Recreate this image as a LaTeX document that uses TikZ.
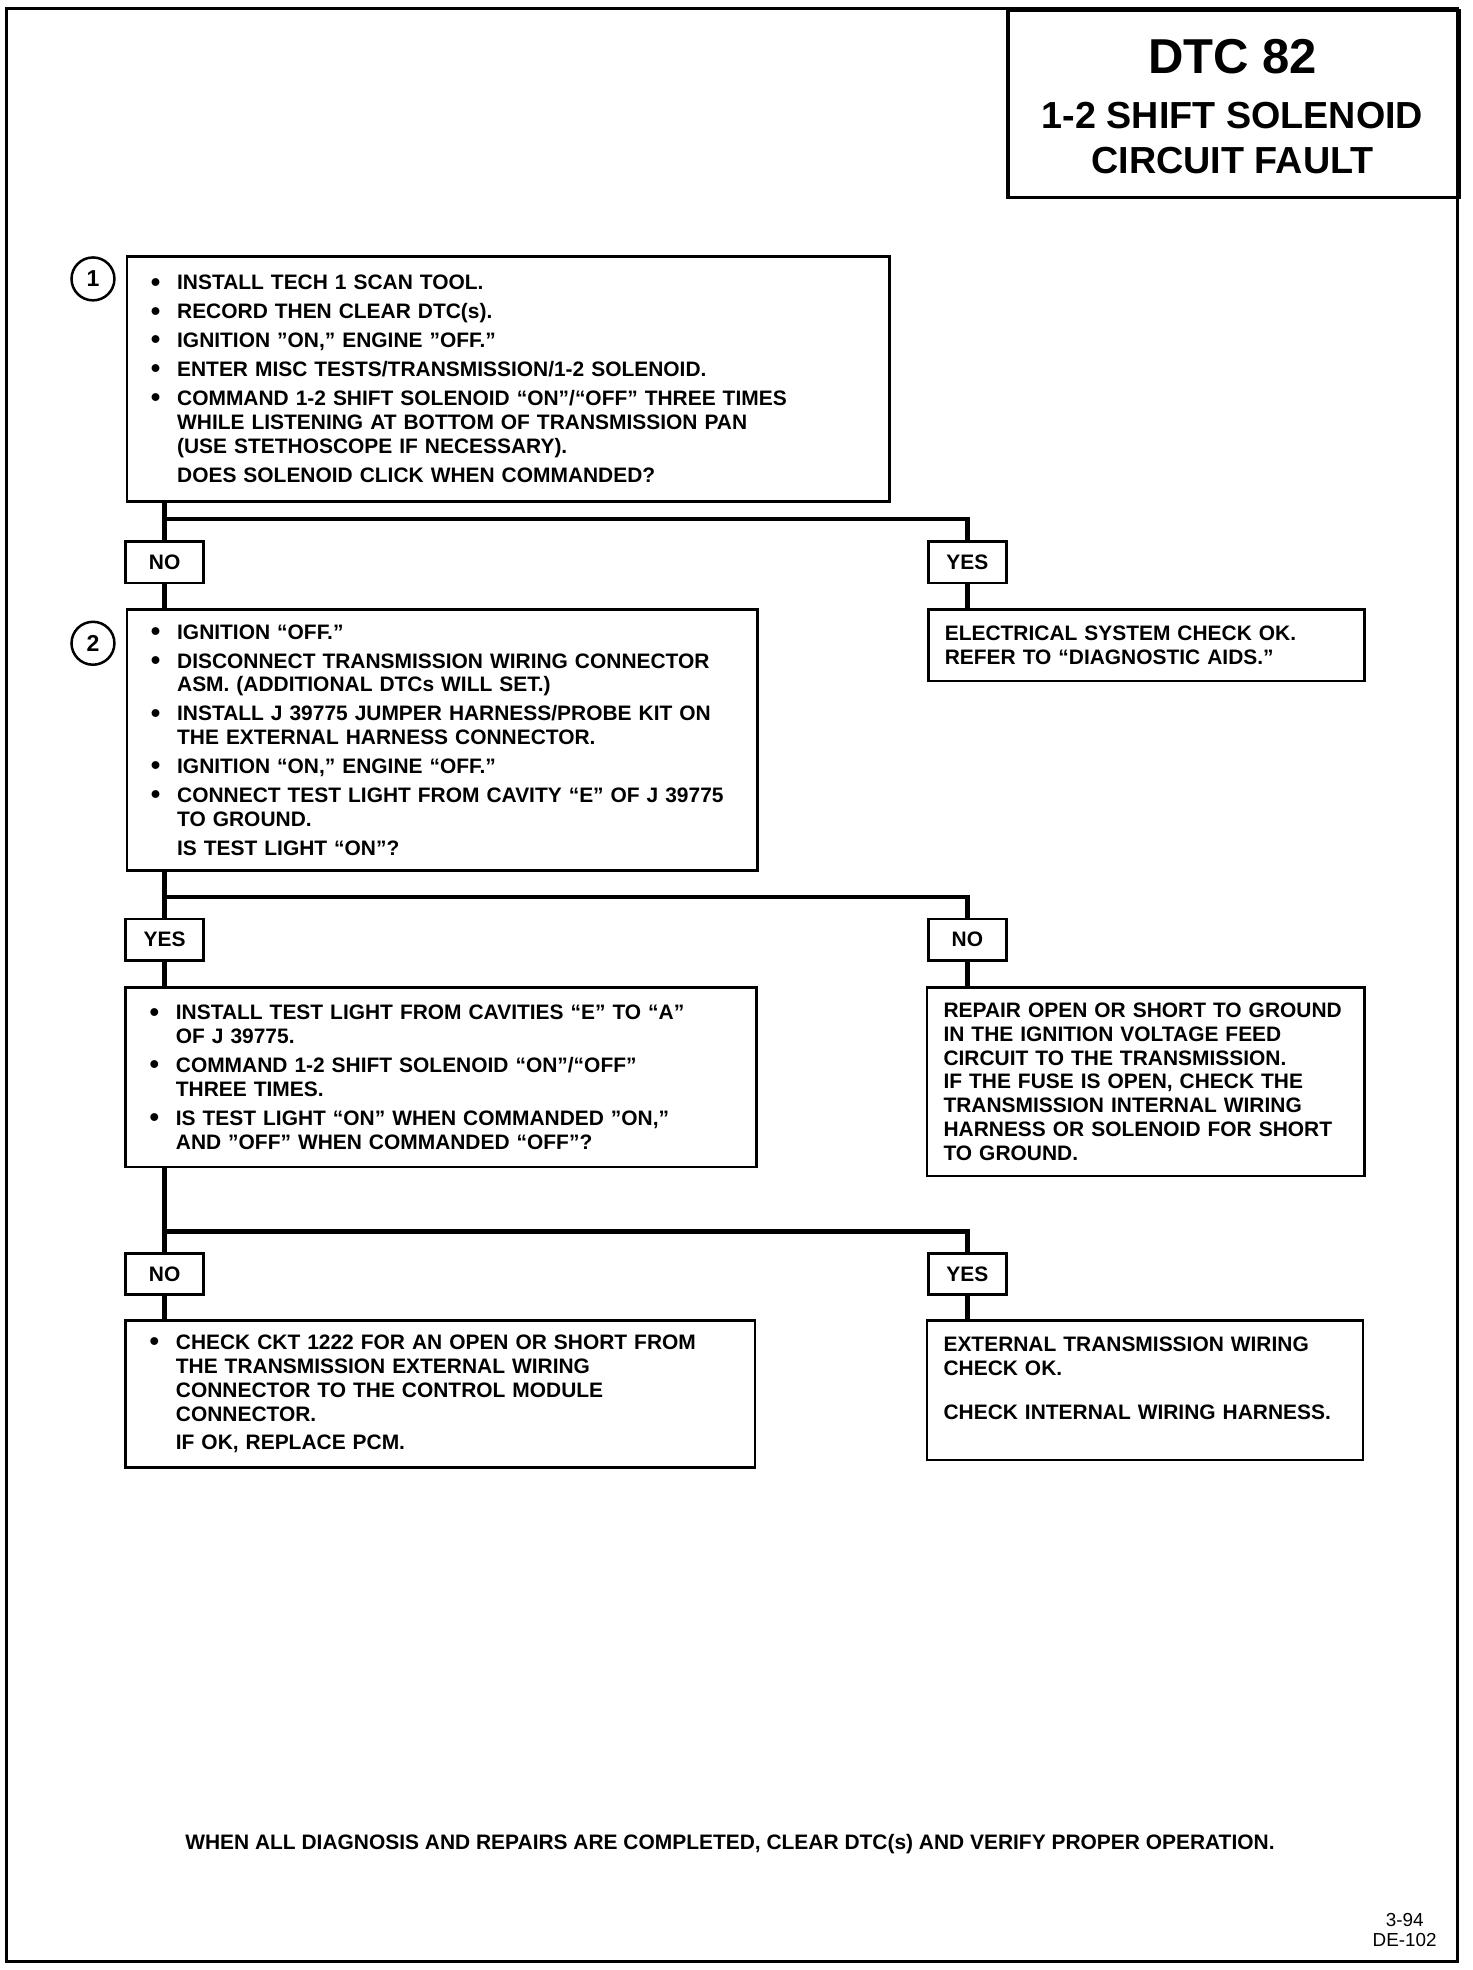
\documentclass[tikz,border=0pt]{standalone}
\usepackage{fontspec}
\setmainfont{Liberation Sans}
\newcommand{\myblt}{\makebox[12.6pt][l]{\raisebox{-0.6pt}{\fontsize{13}{13}\selectfont •}}}
\newcommand{\myind}{\hspace*{12.6pt}}
\tikzset{
  txt/.style={font=\bfseries\fontsize{10}{11.4}\selectfont},
  stepbox/.style={draw, line width=1.2pt, anchor=north west, inner ysep=0pt, inner xsep=11.4pt, align=left, txt},
  rbox/.style={draw, line width=1.2pt, anchor=north west, inner ysep=0pt, inner xsep=7.8pt, align=left, txt},
  lbl/.style={draw, line width=1.2pt, minimum width=37.2pt, minimum height=19.8pt, inner sep=0pt, fill=white, txt},
  circ/.style={circle, draw, line width=1.2pt, minimum size=20.5pt, inner sep=0pt, font=\bfseries\fontsize{11}{12}\selectfont},
  conn/.style={line width=2.2pt, line join=miter},
}
\begin{document}
\begin{tikzpicture}[x=0.6pt, y=-0.6pt]
\useasboundingbox (0,0) rectangle (1172,1568);
\fill[white] (0,0) rectangle (1172,1568);
% outer frame
\draw[line width=1.5pt] (5,7) rectangle (1160,1561);
% title block
\node[draw, line width=1.5pt, anchor=north west, minimum width=215.4pt, minimum height=89.4pt, inner sep=0pt] (title) at (801,7) {};
\node[font=\bfseries\fontsize{23.4}{28}\selectfont] (t1) at (981,45) {DTC 82};
\node[font=\bfseries\fontsize{18}{22}\selectfont] (t2) at (981,92) {1-2 SHIFT SOLENOID};
\node[font=\bfseries\fontsize{18}{22}\selectfont] (t3) at (981,128) {CIRCUIT FAULT};

% step 1
\node[circ] (c1) at (74,222) {1};
\node[stepbox, minimum width=364.2pt, minimum height=117pt, text width=341.4pt] (b1) at (100,203) {%
\myblt INSTALL TECH 1 SCAN TOOL.\\[2.4pt]
\myblt RECORD THEN CLEAR DTC(s).\\[2.4pt]
\myblt IGNITION "ON," ENGINE "OFF."\\[2.4pt]
\myblt ENTER MISC TESTS/TRANSMISSION/1-2 SOLENOID.\\[2.4pt]
\myblt COMMAND 1-2 SHIFT SOLENOID “ON”/“OFF” THREE TIMES\\
\myind WHILE LISTENING AT BOTTOM OF TRANSMISSION PAN\\
\myind (USE STETHOSCOPE IF NECESSARY).\\[2.4pt]
\myind DOES SOLENOID CLICK WHEN COMMANDED?};

\node[lbl] (no1) at (131,447.5) {NO};
\node[lbl] (yes1) at (770,447.5) {YES};

% step 2
\node[circ] (c2) at (74,512) {2};
\node[stepbox, minimum width=301.2pt, minimum height=124.8pt, text width=278.4pt] (b2) at (100,484) {%
\myblt IGNITION “OFF.”\\[2.4pt]
\myblt DISCONNECT TRANSMISSION WIRING CONNECTOR\\
\myind ASM. (ADDITIONAL DTCs WILL SET.)\\[2.4pt]
\myblt INSTALL J 39775 JUMPER HARNESS/PROBE KIT ON\\
\myind THE EXTERNAL HARNESS CONNECTOR.\\[2.4pt]
\myblt IGNITION “ON,” ENGINE “OFF.”\\[2.4pt]
\myblt CONNECT TEST LIGHT FROM CAVITY “E” OF J 39775\\
\myind TO GROUND.\\[2.4pt]
\myind IS TEST LIGHT “ON”?};

\node[rbox, minimum width=208.2pt, minimum height=34.2pt, text width=192.6pt] (r1) at (738,484) {%
ELECTRICAL SYSTEM CHECK OK.\\
REFER TO “DIAGNOSTIC AIDS.”};

\node[lbl] (yes2) at (131,748) {YES};
\node[lbl] (no2) at (770,748) {NO};

% step 3
\node[stepbox, minimum width=301.2pt, minimum height=85.8pt, text width=278.4pt] (b3) at (99,785) {%
\myblt INSTALL TEST LIGHT FROM CAVITIES “E” TO “A”\\
\myind OF J 39775.\\[2.4pt]
\myblt COMMAND 1-2 SHIFT SOLENOID “ON”/“OFF”\\
\myind THREE TIMES.\\[2.4pt]
\myblt IS TEST LIGHT “ON” WHEN COMMANDED "ON,"\\
\myind AND "OFF" WHEN COMMANDED “OFF”?};

\node[rbox, minimum width=208.8pt, minimum height=90pt, text width=193.2pt] (r2) at (737,785) {%
REPAIR OPEN OR SHORT TO GROUND\\
IN THE IGNITION VOLTAGE FEED\\
CIRCUIT TO THE TRANSMISSION.\\
IF THE FUSE IS OPEN, CHECK THE\\
TRANSMISSION INTERNAL WIRING\\
HARNESS OR SOLENOID FOR SHORT\\
TO GROUND.};

\node[lbl] (no3) at (131,1014) {NO};
\node[lbl] (yes3) at (770,1014) {YES};

% step 4
\node[stepbox, minimum width=300.6pt, minimum height=70.2pt, text width=277.8pt] (b4) at (99,1050) {%
\myblt CHECK CKT 1222 FOR AN OPEN OR SHORT FROM\\
\myind THE TRANSMISSION EXTERNAL WIRING\\
\myind CONNECTOR TO THE CONTROL MODULE\\
\myind CONNECTOR.\\[2.4pt]
\myind IF OK, REPLACE PCM.};

\node[rbox, minimum width=208.2pt, minimum height=66.6pt, text width=192.6pt] (r3) at (737,1050) {%
EXTERNAL TRANSMISSION WIRING\\
CHECK OK.\\[9.6pt]
CHECK INTERNAL WIRING HARNESS.\\
\mbox{}};

% connectors
\coordinate (j1) at (131,413);
\coordinate (j2) at (131,714);
\coordinate (j3) at (131,980);
\draw[conn] (no1.north |- b1.south) -- (no1.north);
\draw[conn] (j1) -| (yes1.north);
\draw[conn] (no1.south) -- (no1.south |- b2.north);
\draw[conn] (yes1.south) -- (yes1.south |- r1.north);
\draw[conn] (yes2.north |- b2.south) -- (yes2.north);
\draw[conn] (j2) -| (no2.north);
\draw[conn] (yes2.south) -- (yes2.south |- b3.north);
\draw[conn] (no2.south) -- (no2.south |- r2.north);
\draw[conn] (no3.north |- b3.south) -- (no3.north);
\draw[conn] (j3) -| (yes3.north);
\draw[conn] (no3.south) -- (no3.south |- b4.north);
\draw[conn] (yes3.south) -- (yes3.south |- r3.north);

% footer
\node[txt] (foot) at (581,1468) {WHEN ALL DIAGNOSIS AND REPAIRS ARE COMPLETED, CLEAR DTC(s) AND VERIFY PROPER OPERATION.};
\node[font=\fontsize{9}{10}\selectfont, inner sep=0pt] (pg1) at (1118,1528) {3-94};
\node[font=\fontsize{9}{10}\selectfont, inner sep=0pt] (pg2) at (1118,1544) {DE-102};
\end{tikzpicture}
\end{document}
